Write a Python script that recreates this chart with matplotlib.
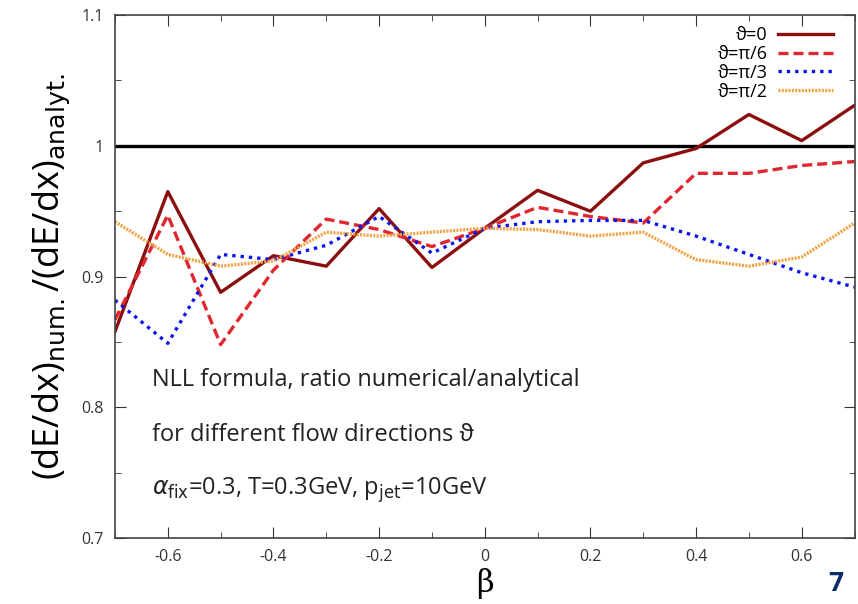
import matplotlib.pyplot as plt
import numpy as np
from matplotlib.ticker import MultipleLocator

plt.rcParams['font.family'] = ['Open Sans', 'DejaVu Sans']

beta = [-0.7, -0.6, -0.5, -0.4, -0.3, -0.2, -0.1, 0.0, 0.1, 0.2, 0.3, 0.4, 0.5, 0.6, 0.7]

theta0 = [0.858, 0.965, 0.888, 0.916, 0.908, 0.952, 0.907, 0.937, 0.966, 0.950, 0.987, 0.998, 1.024, 1.004, 1.031]
theta_pi6 = [0.867, 0.947, 0.848, 0.905, 0.944, 0.936, 0.923, 0.937, 0.953, 0.946, 0.941, 0.979, 0.979, 0.985, 0.988]
theta_pi3 = [0.882, 0.849, 0.917, 0.913, 0.924, 0.946, 0.918, 0.937, 0.942, 0.943, 0.943, 0.931, 0.917, 0.903, 0.892]
theta_pi2 = [0.942, 0.917, 0.908, 0.912, 0.934, 0.931, 0.934, 0.937, 0.936, 0.931, 0.934, 0.913, 0.908, 0.915, 0.941]

labels = ['ϑ=0', 'ϑ=π/6', 'ϑ=π/3', 'ϑ=π/2']

fig = plt.figure(figsize=(8.58, 6.04), dpi=100)
ax = fig.add_axes([0.134, 0.109, 0.862, 0.866])

ax.axhline(1.0, color='k', lw=2.4)
ax.plot(beta, theta0, color='#8b0f0f', lw=2.4, label=labels[0])
ax.plot(beta, theta_pi6, color='#e0262e', lw=2.4, ls=(0, (3, 1.5)), label=labels[1])
ax.plot(beta, theta_pi3, color='#0a14f0', lw=2.4, ls=(0, (1, 1.5)), label=labels[2])
ax.plot(beta, theta_pi2, color='#f5a040', lw=2.4, ls=(0, (0.6, 0.4)), label=labels[3])

ax.set_xlim(-0.7, 0.7)
ax.set_ylim(0.7, 1.1)
ax.xaxis.set_minor_locator(MultipleLocator(0.1))
ax.yaxis.set_minor_locator(MultipleLocator(0.05))
ax.set_xticks([-0.6, -0.4, -0.2, 0, 0.2, 0.4, 0.6])
ax.set_xticklabels(['-0.6', '-0.4', '-0.2', '0', '0.2', '0.4', '0.6'])
ax.set_yticks([0.7, 0.8, 0.9, 1.0, 1.1])
ax.set_yticklabels(['0.7', '0.8', '0.9', '1', '1.1'])
ax.tick_params(which='both', direction='in', top=True, right=True, labelsize=11.5, colors='#333333')
ax.tick_params(which='major', length=8, pad=8)
ax.tick_params(which='minor', length=4)
for s in ax.spines.values():
    s.set_color('#444444')
    s.set_linewidth(1.2)

ax.set_xlabel('β', fontsize=22, labelpad=2, family='DejaVu Serif')
ax.set_ylabel(r'(dE/dx)$_{\rm num.}$/(dE/dx)$_{\rm analyt.}$', fontsize=26, labelpad=6)

ax.legend(loc='upper right', frameon=False, markerfirst=False, fontsize=13,
          handlelength=3.0, labelspacing=0.05, borderaxespad=0.2, handletextpad=0.6,
          bbox_to_anchor=(0.985, 1.0))

ax.text(-0.63, 0.816, 'NLL formula, ratio numerical/analytical', fontsize=17, color='#222222')
ax.text(-0.63, 0.774, 'for different flow directions ϑ', fontsize=17, color='#222222')
ax.text(-0.63, 0.733, r'$\alpha_{\rm fix}$=0.3, T=0.3GeV, p$_{\rm jet}$=10GeV', fontsize=17, color='#222222')

fig.text(0.965, 0.012, '7', fontsize=19, fontweight='bold', color='#0b2a6b', va='bottom')

fig.savefig('out.png', dpi=100)
